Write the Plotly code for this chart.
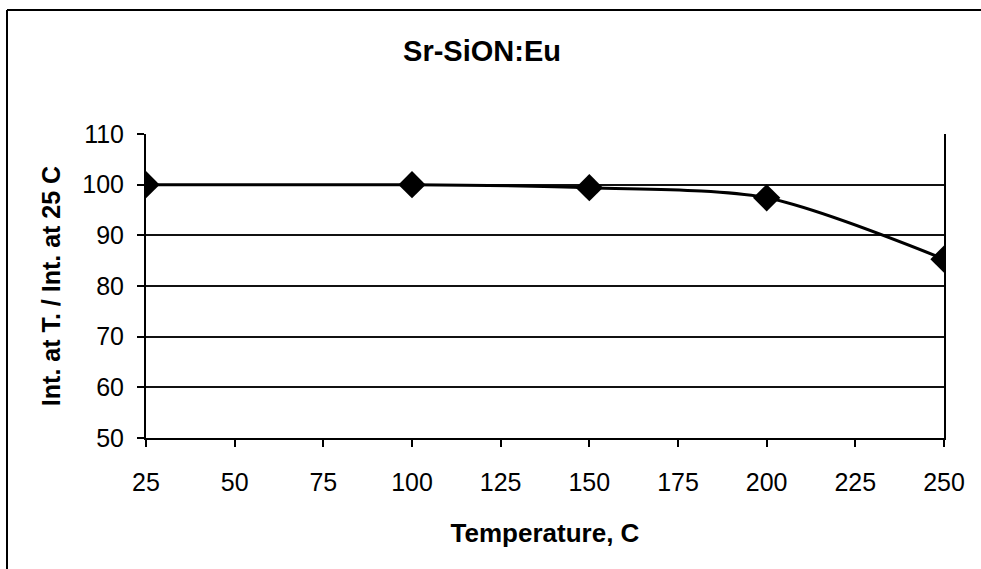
import plotly.graph_objects as go

# Relative emission intensity vs. temperature
temperature = [25, 100, 150, 200, 250]
rel_intensity = [100.0, 100.0, 99.4, 97.4, 85.3]

x_ticks = [25, 50, 75, 100, 125, 150, 175, 200, 225, 250]
y_ticks = [50, 60, 70, 80, 90, 100, 110]

W, H = 981, 569
L, R, T, B = 146, 37, 134, 131
pw, ph = W - L - R, H - T - B

font_family = "Liberation Sans, Arial, sans-serif"

fig = go.Figure()
fig.add_trace(go.Scatter(
    x=temperature, y=rel_intensity,
    mode="lines+markers",
    line=dict(color="black", width=3, shape="spline", smoothing=0.8),
    marker=dict(symbol="diamond", size=21, color="black"),
    showlegend=False,
))

fig.update_layout(
    width=W, height=H,
    margin=dict(l=L, r=R, t=T, b=B),
    paper_bgcolor="white", plot_bgcolor="white",
    font=dict(family=font_family, color="black", size=20),
    title=dict(text="<b>Sr-SiON:Eu</b>", x=482 / W, xanchor="center",
               y=1 - 51 / H, yanchor="middle", font=dict(size=29)),
    xaxis=dict(
        range=[25, 250], tickvals=x_ticks, ticktext=[str(v) for v in x_ticks],
        showgrid=False, showline=True, linecolor="black", linewidth=2,
        ticks="outside", ticklen=7, tickcolor="black", tickwidth=2,
        tickfont=dict(size=25), ticklabelstandoff=14, zeroline=False, mirror=False,
        title=dict(text="<b>Temperature, C</b>", font=dict(size=26), standoff=29),
    ),
    yaxis=dict(
        range=[50, 110], tickvals=y_ticks, ticktext=[str(v) for v in y_ticks],
        showgrid=True, gridcolor="#111111", gridwidth=1.5,
        showline=True, linecolor="black", linewidth=2, mirror=True,
        ticks="outside", ticklen=7, tickcolor="black", tickwidth=2,
        tickfont=dict(size=25), ticklabelstandoff=8, zeroline=False,
        title=dict(text="<b>Int. at T. / Int. at 25 C</b>", font=dict(size=25), standoff=15),
    ),
)

# Outer frame: top and left edges of the chart border
frame = dict(color="black", width=2)
fig.add_shape(type="line", xref="paper", yref="paper",
              x0=(7 - L) / pw, x1=1.3, y0=(H - B - 10) / ph, y1=(H - B - 10) / ph,
              line=frame, layer="below")
fig.add_shape(type="line", xref="paper", yref="paper",
              x0=(7 - L) / pw, x1=(7 - L) / pw, y0=-1.0, y1=(H - B - 10) / ph,
              line=frame, layer="below")

fig.write_html("out.html")
